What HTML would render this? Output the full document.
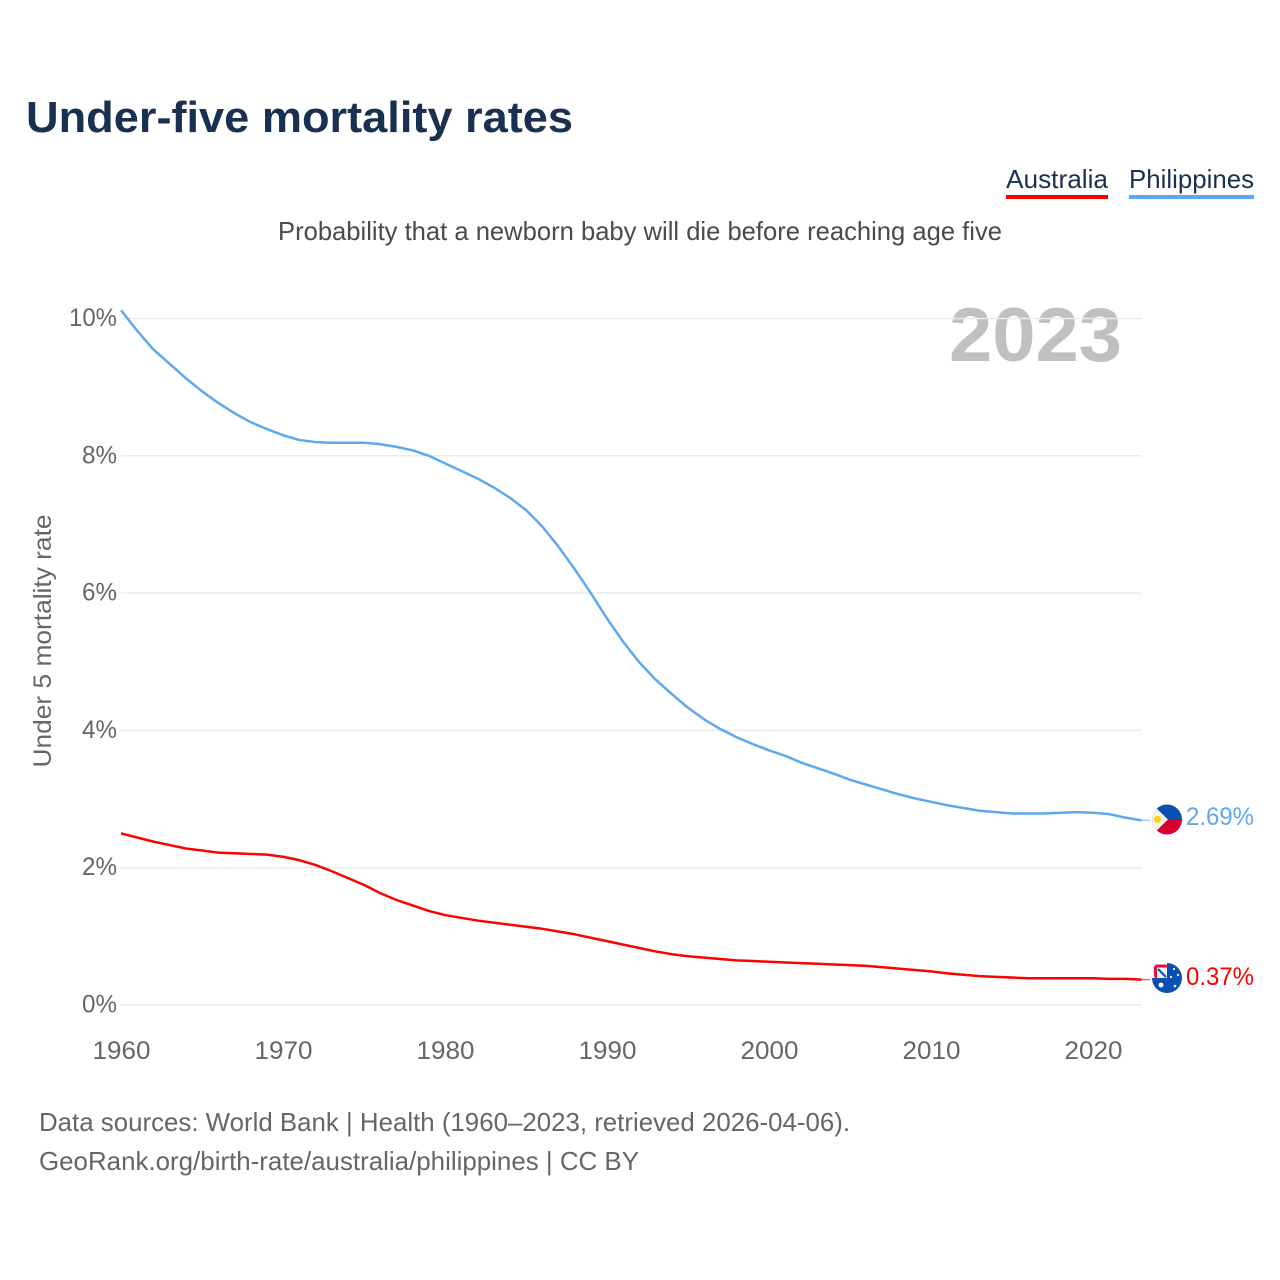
<!DOCTYPE html>
<html lang="en">
<head>
<meta charset="utf-8">
<title>Under-five mortality rates</title>
<style>
html,body{margin:0;padding:0;background:#fff}
svg{display:block}
text{font-family:"Liberation Sans",sans-serif}
</style>
</head>
<body>
<svg id="chart" width="1280" height="1280" viewBox="0 0 1280 1280" xmlns="http://www.w3.org/2000/svg">
<defs>
<clipPath id="flag-ph"><circle cx="1167" cy="819.5" r="15"/></clipPath>
<clipPath id="flag-au"><path d="M1167 963 A15 15 0 1 1 1152 978 L1167 978 Z"/></clipPath>
</defs>
<rect width="1280" height="1280" fill="#fff"/>
<text x="26" y="132" font-size="44" font-weight="700" fill="#1a3050" textLength="547" lengthAdjust="spacingAndGlyphs">Under-five mortality rates</text>
<g>
<g>
<text x="1006" y="188" font-size="26" fill="#1a3050" textLength="102" lengthAdjust="spacingAndGlyphs">Australia</text>
<rect x="1006" y="195" width="102" height="4" fill="#ff0000"/>
</g>
<g>
<text x="1129" y="188" font-size="26" fill="#1a3050" textLength="125" lengthAdjust="spacingAndGlyphs">Philippines</text>
<rect x="1129" y="195" width="125" height="4" fill="#5ea8ee"/>
</g>
</g>
<text x="278" y="240" font-size="26" fill="#4a4a4a" textLength="724" lengthAdjust="spacingAndGlyphs">Probability that a newborn baby will die before reaching age five</text>
<text x="1122" y="361" font-size="76" font-weight="700" fill="#c0c0c0" text-anchor="end" textLength="173" lengthAdjust="spacingAndGlyphs">2023</text>
<text transform="translate(51,641) rotate(-90)" font-size="25" fill="#666" text-anchor="middle" textLength="253" lengthAdjust="spacingAndGlyphs">Under 5 mortality rate</text>
<g id="grid"></g>
<g id="yticks"></g>
<g id="xticks"></g>
<g id="series"></g>
<g clip-path="url(#flag-ph)">
<rect x="1152" y="804" width="30" height="16" fill="#0a50b0"/>
<rect x="1152" y="819.5" width="30" height="16" fill="#d80030"/>
<polygon points="1151,803 1168,819.5 1151,836" fill="#f2f2f2"/>
<circle cx="1157.5" cy="819.5" r="3.6" fill="#fcd116"/>
</g>
<g>
<rect x="1154" y="964.5" width="14" height="14" rx="3" fill="#e0103a"/>
<rect x="1157" y="967.5" width="10" height="10.5" fill="#f2f2f2"/>
<line x1="1158" y1="969" x2="1166" y2="977" stroke="#0a50b0" stroke-width="2"/>
<g clip-path="url(#flag-au)">
<rect x="1152" y="963" width="30" height="30" fill="#0a50b0"/>
<circle cx="1161" cy="985" r="2.4" fill="#fff"/>
<circle cx="1174" cy="969" r="1.1" fill="#fff"/>
<circle cx="1178" cy="975" r="1.1" fill="#fff"/>
<circle cx="1171" cy="977" r="1.1" fill="#fff"/>
<circle cx="1175" cy="986" r="1.3" fill="#fff"/>
</g>
</g>
<text x="1186" y="825" font-size="25" fill="#5ea8ee" textLength="68" lengthAdjust="spacingAndGlyphs">2.69%</text>
<text x="1186" y="985" font-size="25" fill="#ff0000" textLength="68" lengthAdjust="spacingAndGlyphs">0.37%</text>
<text x="39" y="1131" font-size="26" fill="#666" textLength="811" lengthAdjust="spacingAndGlyphs">Data sources: World Bank | Health (1960–2023, retrieved 2026-04-06).</text>
<text x="39" y="1170" font-size="26" fill="#666" textLength="600" lengthAdjust="spacingAndGlyphs">GeoRank.org/birth-rate/australia/philippines | CC BY</text>
</svg>
<script>
const startYear = 1960;
const yTickValues = [0, 2, 4, 6, 8, 10];
const xTickValues = [1960, 1970, 1980, 1990, 2000, 2010, 2020];
const philippines = [10.12,9.82,9.55,9.34,9.13,8.94,8.77,8.62,8.49,8.39,8.30,8.23,8.20,8.19,8.19,8.19,8.17,8.13,8.08,8.00,7.89,7.78,7.67,7.54,7.39,7.21,6.97,6.68,6.35,6.00,5.63,5.29,4.99,4.74,4.53,4.33,4.16,4.02,3.90,3.80,3.71,3.63,3.53,3.45,3.37,3.28,3.21,3.14,3.07,3.01,2.96,2.91,2.87,2.83,2.81,2.79,2.79,2.79,2.80,2.81,2.80,2.78,2.73,2.69];
const australia = [2.50,2.44,2.38,2.33,2.28,2.25,2.22,2.21,2.20,2.19,2.16,2.11,2.04,1.95,1.85,1.75,1.63,1.53,1.45,1.37,1.31,1.27,1.23,1.20,1.17,1.14,1.11,1.07,1.03,0.98,0.93,0.88,0.83,0.78,0.74,0.71,0.69,0.67,0.65,0.64,0.63,0.62,0.61,0.60,0.59,0.58,0.57,0.55,0.53,0.51,0.49,0.46,0.44,0.42,0.41,0.40,0.39,0.39,0.39,0.39,0.39,0.38,0.38,0.37];

const NS = 'http://www.w3.org/2000/svg';
function xScale(year) { return 121 + (year - 1960) * 16.2; }
function yScale(value) { return 1005 - value * 68.65; }
function make(tag, attrs, parent) {
  const el = document.createElementNS(NS, tag);
  for (const k in attrs) el.setAttribute(k, attrs[k]);
  parent.appendChild(el);
  return el;
}
const gridG = document.getElementById('grid');
const yG = document.getElementById('yticks');
const xG = document.getElementById('xticks');
const seriesG = document.getElementById('series');
const xEnd = xScale(startYear + philippines.length - 1);

yTickValues.forEach(function (v) {
  const line = make('line', {x1: 121, x2: xEnd, y1: yScale(v), y2: yScale(v), stroke: '#ebebeb', 'stroke-width': 1.5}, gridG);
  
  
  const t = make('text', {x: 117, y: yScale(v) + 7.5, 'font-size': 25, fill: '#666', 'text-anchor': 'end', textLength: v === 10 ? 48 : 35, lengthAdjust: 'spacingAndGlyphs'}, yG);
  t.textContent = v + '%';
  
  
});
xTickValues.forEach(function (yr) {
  const t = make('text', {x: xScale(yr) + 0.5, y: 1059, 'font-size': 25, fill: '#666', 'text-anchor': 'middle', textLength: 58, lengthAdjust: 'spacingAndGlyphs'}, xG);
  t.textContent = yr;
  
  
});
function drawSeries(values, color, name) {
  const pts = values.map(function (v, i) { return xScale(startYear + i).toFixed(2) + ',' + yScale(v).toFixed(2); }).join(' ');
  const line = make('polyline', {points: pts, fill: 'none', stroke: color, 'stroke-width': 2.5, 'stroke-linejoin': 'round'}, seriesG);
  
  
  const last = yScale(values[values.length - 1]);
  const conn = make('line', {x1: xEnd, x2: 1150, y1: last, y2: last, stroke: color, 'stroke-width': 1.5, opacity: 0.6}, seriesG);
  
  
}
drawSeries(philippines, '#5ea8ee', 'line-philippines');
drawSeries(australia, '#ff0000', 'line-australia');
</script>
</body>
</html>
